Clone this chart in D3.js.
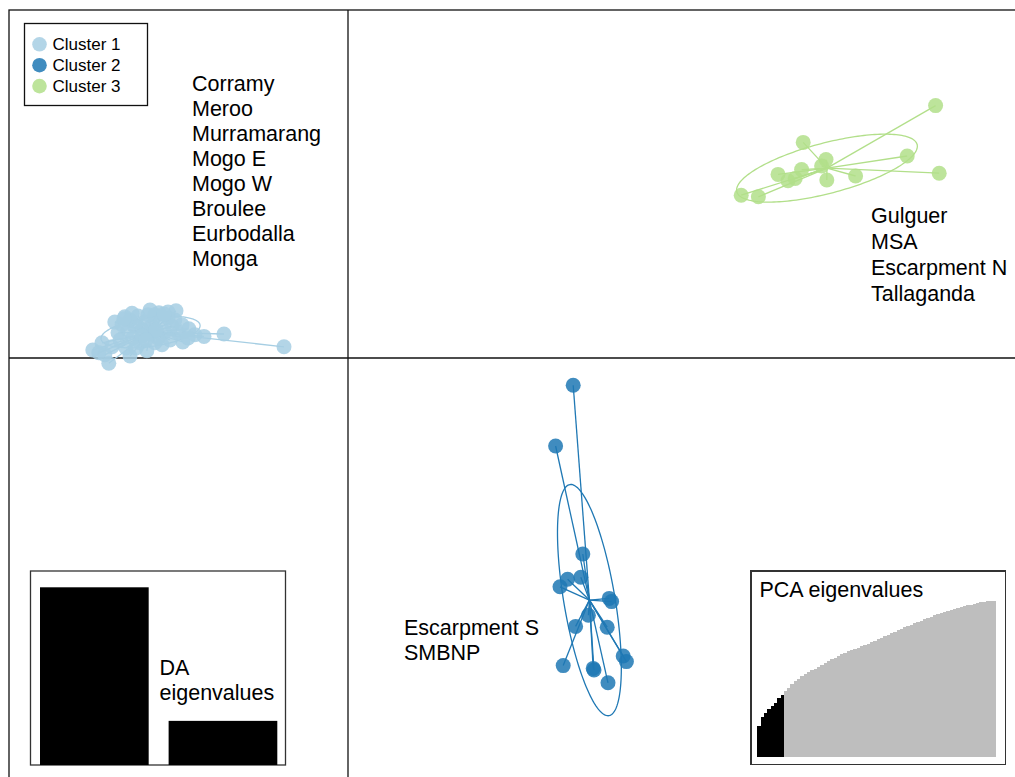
<!DOCTYPE html>
<html>
<head>
<meta charset="utf-8">
<script src="https://cdn.jsdelivr.net/npm/d3@7"></script>
<style>
  html, body { margin: 0; padding: 0; background: #fff; }
  svg { display: block; }
  text { font-family: "Liberation Sans", Arial, sans-serif; fill: #000; }
</style>
</head>
<body>
<svg id="chart" width="1015" height="777"></svg>
<script>
// ---- DAPC scores (LD1, LD2) per cluster ----
const clusterNames = ["Cluster 1", "Cluster 2", "Cluster 3"];
const clusterColors = ["#a6cee3", "#1f78b4", "#b2df8a"];

const cluster1LD1 = [-1.60, -3.10, -3.60, -3.98, -4.30, -4.73, -6.38, -5.98, -5.45, -5.03,
  -4.13, -6.15, -5.58, -4.83, -5.75, -5.45, -5.25, -5.08, -4.90, -4.70,
  -4.50, -4.40, -4.58, -4.75, -4.95, -5.15, -5.33, -5.50, -5.65, -5.38,
  -5.20, -5.70, -5.90, -6.08, -5.55, -4.25, -4.45, -4.65, -4.83, -5.00,
  -4.33, -4.15, -3.83, -5.83, -5.15, -4.80, -4.50, -5.30, -6.23, -4.00,
  -5.40, -4.95, -4.60, -5.60, -5.05];
const cluster1LD2 = [0.28, 0.60, 0.54, 0.73, 1.18, 1.13, 0.20, -0.13, 0.05, 0.18,
  0.40, 0.38, 1.03, 1.08, 0.63, 0.95, 1.05, 0.90, 0.80, 0.95,
  1.00, 0.80, 0.65, 0.50, 0.60, 0.70, 0.80, 0.70, 0.83, 0.50,
  0.38, 0.45, 0.28, 0.08, 0.25, 0.63, 0.45, 0.33, 0.38, 1.08,
  0.95, 0.83, 0.58, 0.90, 0.55, 0.70, 1.15, 0.25, 0.13, 0.50,
  1.12, 1.20, 1.10, 0.98, 0.45];

const cluster2LD1 = [5.63, 5.19, 5.87, 5.82, 5.49, 5.30, 6.53, 6.59, 6.01, 5.69,
  6.48, 6.88, 6.96, 5.38, 6.13, 6.15, 6.50];
const cluster2LD2 = [-0.68, -2.20, -4.90, -5.48, -5.53, -5.72, -6.01, -6.09, -6.43, -6.71,
  -6.73, -7.45, -7.59, -7.69, -7.76, -7.80, -8.12];

const cluster3LD1 = [14.69, 11.38, 11.95, 11.84, 13.98, 14.78, 12.69, 11.97, 11.34, 10.75,
  11.00, 11.18, 9.83, 10.26];
const cluster3LD2 = [6.31, 5.39, 4.96, 4.80, 5.05, 4.62, 4.55, 4.45, 4.71, 4.59,
  4.43, 4.49, 4.07, 4.03];

// inertia ellipses: semi-axes (LD units) and orientation of the major axis (degrees)
const ellipseMajor = [1.25, 2.93, 2.33];
const ellipseMinor = [0.36, 0.64, 0.63];
const ellipseAngle = [8, 99.6, 14.7];

// populations belonging to each cluster
const cluster1Pops = ["Corramy", "Meroo", "Murramarang", "Mogo E", "Mogo W", "Broulee", "Eurbodalla", "Monga"];
const cluster2Pops = ["Escarpment S", "SMBNP"];
const cluster3Pops = ["Gulguer", "MSA", "Escarpment N", "Tallaganda"];

// eigenvalue insets
const daEigenvalues = [604, 150];
const pcaRetained = 8;
const pcaCumVariance = [19.7, 25.6, 27.8, 30.3, 32.5, 34.6, 37.4, 39.5, 42.1, 44.2,
  46.6, 48.3, 49.8, 51.5, 53.0, 54.3, 55.3, 56.4, 57.7, 59.0,
  60.0, 61.3, 62.4, 63.5, 64.7, 65.8, 66.7, 67.5, 68.4, 69.2,
  69.9, 70.7, 71.6, 72.4, 73.3, 74.4, 75.2, 76.3, 77.1, 78.2,
  79.1, 80.1, 81.0, 82.1, 82.9, 83.8, 84.6, 85.5, 86.3, 87.2,
  88.0, 88.9, 89.7, 90.6, 91.5, 92.1, 92.7, 93.4, 94.0, 94.7,
  95.3, 95.9, 96.4, 97.0, 97.4, 98.1, 98.5, 98.9, 99.4, 99.6,
  99.8, 100];

// ---- assemble ----
const groups = [
  { x: cluster1LD1, y: cluster1LD2 },
  { x: cluster2LD1, y: cluster2LD2 },
  { x: cluster3LD1, y: cluster3LD2 }
].map((g, i) => ({
  idx: i,
  color: clusterColors[i],
  pts: g.x.map((v, j) => [v, g.y[j]]),
  cx: d3.mean(g.x),
  cy: d3.mean(g.y),
  a: ellipseMajor[i], b: ellipseMinor[i], ang: ellipseAngle[i] * Math.PI / 180
}));

const W = 1015, H = 777;
const svg = d3.select("#chart");

const x = d3.scaleLinear().domain([-8.475, 16.675]).range([9, 1015]);
const y = d3.scaleLinear().domain([-10.475, 8.7]).range([777, 10]);

// frame and zero axes
svg.append("rect").attr("x", 9).attr("y", 10).attr("width", W).attr("height", H)
  .attr("fill", "none").attr("stroke", "#111").attr("stroke-width", 1.3);
svg.append("line").attr("x1", x(0)).attr("x2", x(0)).attr("y1", 10).attr("y2", H)
  .attr("stroke", "#111").attr("stroke-width", 1.3);
svg.append("line").attr("x1", 9).attr("x2", W).attr("y1", y(0)).attr("y2", y(0))
  .attr("stroke", "#111").attr("stroke-width", 1.3);

const line = d3.line().x(d => x(d[0])).y(d => y(d[1]));
const tSteps = d3.range(0, 2 * Math.PI + 0.001, Math.PI / 90);

const gPlot = svg.append("g");
groups.forEach(g => {
  const gg = gPlot.append("g");
  // ellipse
  const ell = tSteps.map(t => {
    const u = g.a * Math.cos(t), v = g.b * Math.sin(t);
    return [g.cx + u * Math.cos(g.ang) - v * Math.sin(g.ang),
            g.cy + u * Math.sin(g.ang) + v * Math.cos(g.ang)];
  });
  gg.append("path").attr("d", line(ell)).attr("fill", "none")
    .attr("stroke", g.color).attr("stroke-width", 1.3);
  // star segments to the centroid
  gg.selectAll("line.star").data(g.pts).join("line")
    .attr("x1", x(g.cx)).attr("y1", y(g.cy))
    .attr("x2", d => x(d[0])).attr("y2", d => y(d[1]))
    .attr("stroke", g.color).attr("stroke-width", 1.3);
  // points
  gg.selectAll("circle").data(g.pts).join("circle")
    .attr("cx", d => x(d[0])).attr("cy", d => y(d[1])).attr("r", 7.5)
    .attr("fill", g.color).attr("fill-opacity", 0.85);
});

// population labels
const labelFont = 21.5;
function labelBlock(names, x0, y0, step) {
  svg.append("g").selectAll("text").data(names).join("text")
    .attr("x", x0).attr("y", (d, i) => y0 + i * step)
    .attr("font-size", labelFont).text(d => d);
}
labelBlock(cluster1Pops, 192, 90.5, 25.1);
labelBlock(cluster3Pops, 871, 223, 26);
labelBlock(cluster2Pops, 404, 635, 25);

// legend
const leg = svg.append("g");
leg.append("rect").attr("x", 24.5).attr("y", 23.5).attr("width", 123).attr("height", 82)
  .attr("fill", "#fff").attr("stroke", "#111").attr("stroke-width", 1.3);
clusterNames.forEach((n, i) => {
  const cy = 44.3 + i * 20.9;
  leg.append("circle").attr("cx", 39.5).attr("cy", cy).attr("r", 7.3)
    .attr("fill", clusterColors[i]).attr("fill-opacity", 0.85);
  leg.append("text").attr("x", 52.5).attr("y", cy + 6).attr("font-size", 17).text(n);
});

// DA eigenvalues inset
const da = svg.append("g");
da.append("rect").attr("x", 30.5).attr("y", 571).attr("width", 255).attr("height", 194)
  .attr("fill", "#fff").attr("stroke", "#333").attr("stroke-width", 1.3);
const daX = d3.scaleBand().domain(d3.range(daEigenvalues.length)).range([40, 277.3]).paddingInner(0.155);
const daY = d3.scaleLinear().domain([0, d3.max(daEigenvalues)]).range([765, 587.3]);
da.selectAll("rect.bar").data(daEigenvalues).join("rect").attr("class", "bar")
  .attr("x", (d, i) => daX(i)).attr("width", daX.bandwidth())
  .attr("y", d => daY(d)).attr("height", d => daY(0) - daY(d)).attr("fill", "#000");
da.append("text").attr("x", 159.5).attr("y", 675).attr("font-size", labelFont).text("DA");
da.append("text").attr("x", 159.5).attr("y", 699.5).attr("font-size", labelFont).text("eigenvalues");

// PCA eigenvalues inset (cumulative variance), bars drawn edge to edge
const pca = svg.append("g").attr("shape-rendering", "crispEdges");
pca.append("rect").attr("x", 751).attr("y", 571).attr("width", 254.5).attr("height", 193.5)
  .attr("fill", "#fff").attr("stroke", "#333").attr("stroke-width", 1.3);
const pX = d3.scaleBand().domain(d3.range(pcaCumVariance.length)).range([757.3, 996]).padding(0);
const pY = d3.scaleLinear().domain([0, 100]).range([756.7, 600.7]);
pca.selectAll("rect.bar").data(pcaCumVariance).join("rect").attr("class", "bar")
  .attr("x", (d, i) => pX(i)).attr("width", (d, i) => i === pcaCumVariance.length - 1 ? pX.bandwidth() : pX.bandwidth() + 1)
  .attr("y", d => pY(d)).attr("height", d => pY(0) - pY(d))
  .attr("fill", (d, i) => i < pcaRetained ? "#000" : "#bebebe");
pca.append("text").attr("x", 759.5).attr("y", 597).attr("font-size", labelFont)
  .attr("shape-rendering", null).text("PCA eigenvalues");
</script>
</body>
</html>
